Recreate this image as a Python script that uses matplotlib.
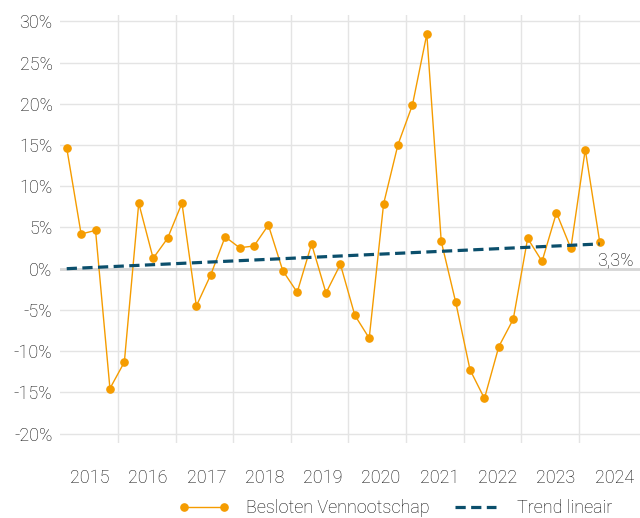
import numpy as np
import matplotlib
matplotlib.use("Agg")
import matplotlib.pyplot as plt
from matplotlib.lines import Line2D
from matplotlib.legend_handler import HandlerLine2D

plt.rcParams['font.family'] = ['Roboto', 'DejaVu Sans']
plt.rcParams['font.size'] = 13
plt.rcParams['font.weight'] = 'light'

# quarterly growth, %
start_year = 2015.11
values = [14.65, 4.2, 4.65, -14.53, -11.33, 7.95, 1.26, 3.68, 7.95, -4.52,
          -0.74, 3.87, 2.54, 2.75, 5.29, -0.24, -2.86, 2.99, -2.94, 0.53,
          -5.64, -8.43, 7.87, 15.06, 19.85, 28.45, 3.32, -4.03, -12.26, -15.74,
          -9.44, -6.13, 3.68, 0.89, 6.78, 2.47, 14.45, 3.27]
trend_values = [0.0, 3.0]  # linear trend at first and last quarter
years = list(range(2015, 2025))
series_label = "Besloten Vennootschap"
trend_label = "Trend lineair"

orange = '#F59C00'
teal = '#0B4F6C'
text_col = '#0d0d0d'
grid_col = '#e4e4e4'

x = start_year + 0.25 * np.arange(len(values))

fig = plt.figure(figsize=(6.4, 5.18), dpi=100)
ax = fig.add_axes([0.093, 0.1454, 0.907, 0.8262])

ax.set_xlim(2014.985, 2025.06)
ax.set_ylim(-21.1, 30.8)

# grid
ax.set_xticks(years[1:])
ax.set_xticklabels([])
ax.set_yticks(np.arange(-20, 31, 5))
ax.set_yticklabels([f"{v}%" for v in range(-20, 31, 5)])
ax.grid(True, color=grid_col, lw=1)
ax.set_axisbelow(True)
ax.axhline(0, color='#d6d6d6', lw=2, zorder=1)

# year labels in the middle of each band
label_pos = 2015.51 + 1.0113 * np.arange(len(years))
ax.set_xticks(label_pos, minor=True)
ax.set_xticklabels([str(y) for y in years], minor=True)

ax.tick_params(axis='both', which='both', length=0, colors=text_col, labelsize=13)
ax.tick_params(axis='x', which='minor', pad=19)
ax.tick_params(axis='y', pad=5)
for s in ax.spines.values():
    s.set_visible(False)

# data
ax.plot(x, values, color=orange, lw=1, marker='o', ms=5.2, mec=orange, zorder=3)
ax.plot([x[0], x[-1]], trend_values, color=teal, lw=2.3, dashes=(3.2, 1.7), zorder=4)

ax.annotate(f"{values[-1]:.1f}%".replace('.', ','), xy=(x[-1], values[-1]),
            xytext=(-1.5, -13.5), textcoords='offset points', ha='left', va='center',
            fontsize=13, color=text_col, zorder=5)

handles = [Line2D([], [], color=orange, lw=1, marker='o', ms=5.2),
           Line2D([], [], color=teal, lw=2.3, dashes=(3.2, 1.7))]
leg = fig.legend(handles, [series_label, trend_label], loc='center',
                 bbox_to_anchor=(0.622, 0.0193), ncol=2, frameon=False,
                 numpoints=2, handlelength=2.25, handletextpad=1.2,
                 columnspacing=1.4, fontsize=13,
                 handler_map={Line2D: HandlerLine2D(marker_pad=0)})
for t in leg.get_texts():
    t.set_color(text_col)

fig.savefig("out.png", dpi=100)
